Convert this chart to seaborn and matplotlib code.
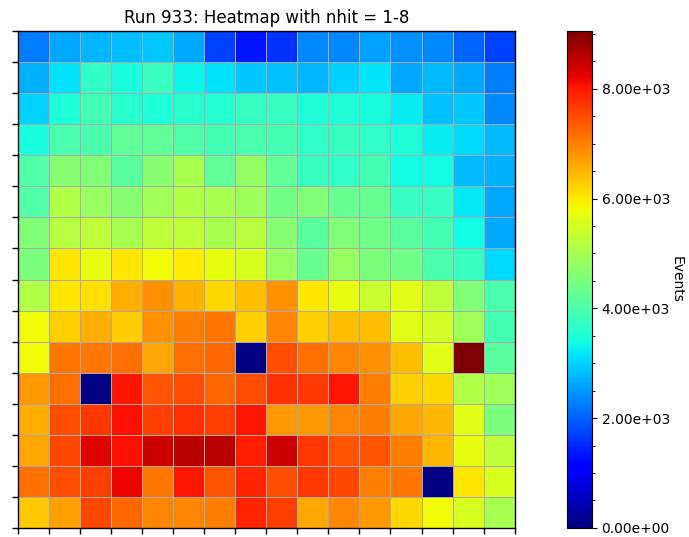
import numpy as np
import pandas as pd
import matplotlib
matplotlib.use('Agg')
import matplotlib.pyplot as plt
import seaborn as sns

# Event counts per cell, rows listed top to bottom as displayed
row00 = [2260, 2620, 2735, 2800, 2900, 2620, 1700, 1340, 1560, 2340, 2340, 2550, 2410, 2340, 2050, 1700]
row01 = [2690, 3120, 3700, 3430, 3780, 3300, 3120, 2905, 2830, 2735, 3000, 3150, 2620, 2780, 2620, 2260]
row02 = [2980, 3520, 3900, 3620, 3520, 3620, 3600, 3780, 3780, 3520, 3520, 3430, 3250, 2830, 2905, 2340]
row03 = [3430, 3960, 3960, 4220, 4220, 4050, 3900, 3960, 3900, 3700, 3780, 3700, 3520, 3250, 3050, 2770]
row04 = [4050, 4660, 4570, 4140, 4660, 5010, 4220, 4800, 4220, 3780, 3700, 3900, 3380, 3380, 2770, 2690]
row05 = [4050, 5100, 4840, 4660, 4930, 5100, 5010, 4900, 4450, 4570, 4300, 4300, 3780, 3780, 3185, 2620]
row06 = [4570, 5190, 5260, 5010, 5260, 5260, 5010, 5220, 4660, 4140, 4570, 4400, 4140, 3900, 3380, 2620]
row07 = [4490, 6010, 5720, 6010, 5800, 5940, 5720, 5540, 4840, 4300, 4840, 4490, 4400, 3960, 3780, 3050]
row08 = [5100, 6010, 6090, 6550, 6850, 6510, 6160, 6400, 6850, 6010, 5720, 5370, 5630, 5260, 4570, 3960]
row09 = [5800, 6245, 6550, 6280, 6850, 7015, 7085, 6245, 6940, 6245, 6400, 6400, 5630, 5460, 4930, 3900]
row10 = [5800, 7085, 7085, 7170, 6620, 7170, 7240, 0, 7475, 7170, 6940, 6850, 6400, 5630, 9050, 4140]
row11 = [6780, 7170, 0, 8010, 7390, 7475, 7240, 7475, 7775, 7700, 8010, 7015, 6245, 6160, 5100, 4930]
row12 = [6550, 7475, 7700, 8080, 7620, 7775, 7620, 8010, 6780, 6780, 6940, 7015, 6620, 6480, 5630, 4490]
row13 = [6620, 7550, 8290, 8080, 8425, 8610, 8610, 7930, 8425, 7700, 7390, 7390, 7015, 6480, 5720, 5260]
row14 = [7170, 7475, 7620, 8170, 7085, 8010, 7390, 7855, 7475, 7700, 7550, 7015, 7085, 0, 6010, 5540]
row15 = [6325, 6700, 7550, 7240, 6940, 6940, 7015, 7855, 7620, 6620, 6940, 6780, 6160, 5800, 5540, 5010]

rows = [row00, row01, row02, row03, row04, row05, row06, row07,
        row08, row09, row10, row11, row12, row13, row14, row15]
counts = pd.DataFrame(np.array(rows, dtype=float))

fig = plt.figure(figsize=(6.89, 5.37), dpi=100)
ax = fig.add_axes([0.026, 0.017, 0.721, 0.925])
cax = fig.add_axes([0.823, 0.017, 0.036, 0.925])

sns.heatmap(counts, ax=ax, cbar_ax=cax, cmap='jet', vmin=0, vmax=counts.values.max(),
            linewidths=0.5, linecolor='#aaaaaa', square=False,
            xticklabels=False, yticklabels=False,
            cbar_kws={'format': '%.2e'})

n = counts.shape[0]
ax.set_xticks(np.arange(n + 1))
ax.set_yticks(np.arange(n + 1))
ax.set_xticklabels([])
ax.set_yticklabels([])
ax.tick_params(axis='both', length=4.5, width=1, color='black')
for side in ['left', 'bottom', 'top', 'right']:
    ax.spines[side].set_visible(True)
    ax.spines[side].set_color('black')
    ax.spines[side].set_linewidth(1)
ax.set_title('Run 933: Heatmap with nhit = 1-8', fontsize=12)

cbar = ax.collections[0].colorbar
cbar.set_ticks([0, 2000, 4000, 6000, 8000])
cbar.ax.minorticks_on()
cbar.ax.tick_params(labelsize=10)
cbar.outline.set_visible(True)
cbar.outline.set_edgecolor('black')
cbar.outline.set_linewidth(0.8)
cbar.set_label('Events', rotation=270, labelpad=10, fontsize=10)

fig.savefig('out.png', dpi=100)
